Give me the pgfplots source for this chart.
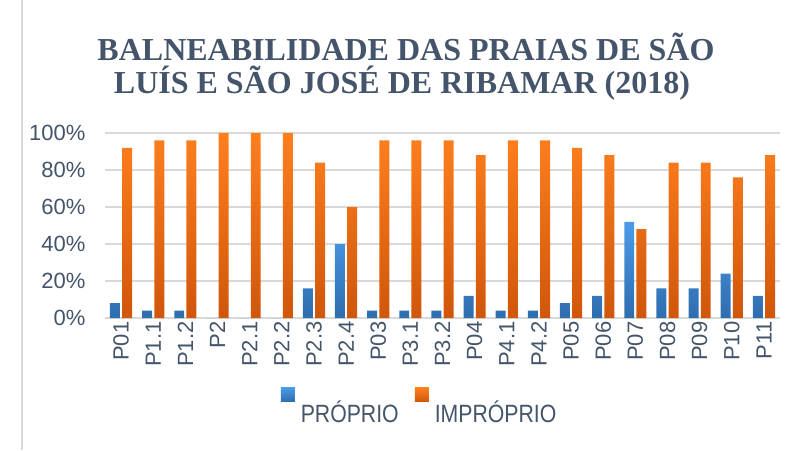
\documentclass[border=0pt]{standalone}
\usepackage{pgfplots}
\pgfplotsset{compat=1.18}
\usepackage{fontspec}
\setmainfont{Liberation Sans}
\newfontfamily\titlefont{Liberation Serif}
\newfontfamily\legendfont[FakeStretch=0.85]{Liberation Sans}
\definecolor{txt}{HTML}{44546A}
\definecolor{gridc}{HTML}{D9D9D9}
\definecolor{bluetop}{HTML}{4A9BE8}
\definecolor{bluebot}{HTML}{2E6DAE}
\definecolor{orgtop}{HTML}{FF7F1E}
\definecolor{orgbot}{HTML}{D0560A}
\begin{document}
\begin{tikzpicture}[x=1pt,y=1pt]
\useasboundingbox (0,0) rectangle (797,450);
\draw[gridc, line width=1.5pt] (22,0) -- (22,450);
\node[anchor=base, text=txt, font=\titlefont\bfseries\fontsize{32}{34}\selectfont] at (406,389) {BALNEABILIDADE DAS PRAIAS DE SÃO};
\node[anchor=base, text=txt, font=\titlefont\bfseries\fontsize{32}{34}\selectfont] at (402,356) {LUÍS E SÃO JOSÉ DE RIBAMAR (2018)};
\begin{axis}[
  at={(105pt,132pt)}, anchor=south west,
  scale only axis, width=675pt, height=185pt,
  xmin=-0.5, xmax=20.5, ymin=0, ymax=100,
  xtick={0,...,20},
  xticklabels={P01,P1.1,P1.2,P2,P2.1,P2.2,P2.3,P2.4,P03,P3.1,P3.2,P04,P4.1,P4.2,P05,P06,P07,P08,P09,P10,P11},
  ytick={0,20,40,60,80,100},
  yticklabel={\pgfmathprintnumber{\tick}\%},
  /pgf/number format/assume math mode=true,
  xmajorgrids=false,
  ymajorgrids=true, 
  major grid style={color=gridc, line width=1.5pt},
  axis line style={draw=none},
  major tick length=0pt, minor tick num=0,
  xticklabel style={rotate=90, anchor=east, font=\fontsize{22}{24}\selectfont, text=txt},
  yticklabel style={font=\fontsize{22}{24}\selectfont, text=txt, xshift=-16pt},
  legend style={at={(0.466,0)}, anchor=center, yshift=-89pt, draw=none, fill=none,
    font=\legendfont\fontsize{25}{27}\selectfont, text=txt,
    /tikz/every even column/.append style={column sep=14pt},
    /tikz/every odd column/.append style={column sep=4pt}},
  legend columns=2,
  legend image code/.code={\fill[#1] (0pt,11pt) rectangle (14pt,25pt);},
]
\addplot[ybar, bar width=0.31, bar shift=-0.19, draw=none, top color=bluetop, bottom color=bluebot]
coordinates {(0,8) (1,4) (2,4) (3,0) (4,0) (5,0) (6,16) (7,40) (8,4) (9,4) (10,4) (11,12) (12,4) (13,4) (14,8) (15,12) (16,52) (17,16) (18,16) (19,24) (20,12)};
\addlegendentry{PRÓPRIO}
\addplot[ybar, bar width=0.31, bar shift=0.19, draw=none, top color=orgtop, bottom color=orgbot]
coordinates {(0,92) (1,96) (2,96) (3,100) (4,100) (5,100) (6,84) (7,60) (8,96) (9,96) (10,96) (11,88) (12,96) (13,96) (14,92) (15,88) (16,48) (17,84) (18,84) (19,76) (20,88)};
\addlegendentry{IMPRÓPRIO}
\end{axis}
\end{tikzpicture}
\end{document}
